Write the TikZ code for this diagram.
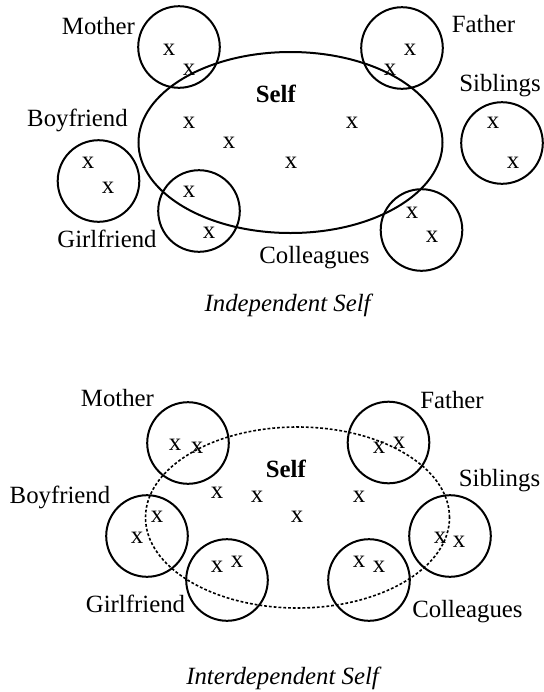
\documentclass[tikz,border=0pt]{standalone}
\usepackage{fontspec}
\setmainfont{Liberation Serif}
\usetikzlibrary{shapes.geometric}
\begin{document}
\begin{tikzpicture}[x=0.5pt, y=-0.5pt,
    font=\fontsize{12.4}{14}\selectfont,
    ring/.style={draw, circle, line width=1pt, minimum size=40.8pt, inner sep=0pt},
    selfring/.style={draw, ellipse, line width=1pt, minimum width=152pt, minimum height=90.5pt, inner sep=0pt},
    xmark/.style={inner sep=0pt},
    tag/.style={inner sep=0pt}]
    \useasboundingbox (0,0) rectangle (544,692);

    % 上圖：獨立自我
    \coordinate (S1) at (290.5, 142.5);
    \coordinate (M1) at (179, 47);
    \coordinate (F1) at (402, 48);
    \coordinate (Si1) at (502, 143);
    \coordinate (B1) at (98.5, 181);
    \coordinate (G1) at (199, 211);
    \coordinate (C1) at (421.5, 230);

    % 畫出圓
    \node[selfring] (self1) at (S1) {};
    \node[ring] (mother1) at (M1) {};
    \node[ring] (father1) at (F1) {};
    \node[ring] (siblings1) at (Si1) {};
    \node[ring] (boyfriend1) at (B1) {};
    \node[ring] (girlfriend1) at (G1) {};
    \node[ring] (colleagues1) at (C1) {};

    % 標籤
    \node[tag] (selftag1) at (276, 94) {\textbf{Self}};
    \node[tag] (mothertag1) at (98.5, 26) {Mother};
    \node[tag] (fathertag1) at (483.5, 24) {Father};
    \node[tag] (siblingstag1) at (500, 86) {Siblings};
    \node[tag] (boyfriendtag1) at (77.5, 120) {Boyfriend};
    \node[tag] (girlfriendtag1) at (107, 239) {Girlfriend};
    \node[tag] (colleaguestag1) at (314.5, 258) {Colleagues};
    \node[tag] (title1) at (289, 305) {\textit{Independent Self}};

    % 畫出 x
    \node[xmark] (xm1a) at (169, 50) {x};
    \node[xmark] (xm1b) at (189, 70) {x};
    \node[xmark] (xf1a) at (410, 50) {x};
    \node[xmark] (xf1b) at (390, 70) {x};
    \node[xmark] (xsi1a) at (493, 123) {x};
    \node[xmark] (xsi1b) at (513, 163) {x};
    \node[xmark] (xs1a) at (189, 123) {x};
    \node[xmark] (xs1b) at (229, 143) {x};
    \node[xmark] (xs1c) at (291, 163) {x};
    \node[xmark] (xs1d) at (352, 123) {x};
    \node[xmark] (xb1a) at (88, 163) {x};
    \node[xmark] (xb1b) at (108, 188) {x};
    \node[xmark] (xg1a) at (189, 192) {x};
    \node[xmark] (xg1b) at (209, 233) {x};
    \node[xmark] (xc1a) at (412, 213) {x};
    \node[xmark] (xc1b) at (432, 237) {x};

    % 下圖：相依自我
    \coordinate (S2) at (297.5, 517.5);
    \coordinate (M2) at (188, 443);
    \coordinate (F2) at (388.5, 442.5);
    \coordinate (Si2) at (450, 536);
    \coordinate (B2) at (147, 536);
    \coordinate (G2) at (227, 580);
    \coordinate (C2) at (369, 580);

    % 畫出圓
    \node[selfring, dash pattern=on 1.4pt off 1pt, line width=0.8pt] (self2) at (S2) {};
    \node[ring] (mother2) at (M2) {};
    \node[ring] (father2) at (F2) {};
    \node[ring] (siblings2) at (Si2) {};
    \node[ring] (boyfriend2) at (B2) {};
    \node[ring] (girlfriend2) at (G2) {};
    \node[ring] (colleagues2) at (C2) {};

    % 標籤
    \node[tag] (selftag2) at (286, 469) {\textbf{Self}};
    \node[tag] (mothertag2) at (117.5, 398) {Mother};
    \node[tag] (fathertag2) at (452, 400) {Father};
    \node[tag] (siblingstag2) at (499.5, 481) {Siblings};
    \node[tag] (boyfriendtag2) at (60, 497) {Boyfriend};
    \node[tag] (girlfriendtag2) at (135.5, 604) {Girlfriend};
    \node[tag] (colleaguestag2) at (467.5, 612) {Colleagues};
    \node[tag] (title2) at (284, 678) {\textit{Interdependent Self}};

    % 畫出 x
    \node[xmark] (xm2a) at (175, 445) {x};
    \node[xmark] (xm2b) at (197, 448) {x};
    \node[xmark] (xf2a) at (379, 448) {x};
    \node[xmark] (xf2b) at (399, 443) {x};
    \node[xmark] (xs2a) at (217, 493) {x};
    \node[xmark] (xs2b) at (257, 497) {x};
    \node[xmark] (xs2c) at (359, 497) {x};
    \node[xmark] (xs2d) at (297, 517) {x};
    \node[xmark] (xb2a) at (157, 517) {x};
    \node[xmark] (xb2b) at (137, 538) {x};
    \node[xmark] (xg2a) at (217, 567) {x};
    \node[xmark] (xg2b) at (237, 562) {x};
    \node[xmark] (xc2a) at (359, 562) {x};
    \node[xmark] (xc2b) at (379, 567) {x};
    \node[xmark] (xsi2a) at (440, 538) {x};
    \node[xmark] (xsi2b) at (459, 542) {x};
\end{tikzpicture}
\end{document}
